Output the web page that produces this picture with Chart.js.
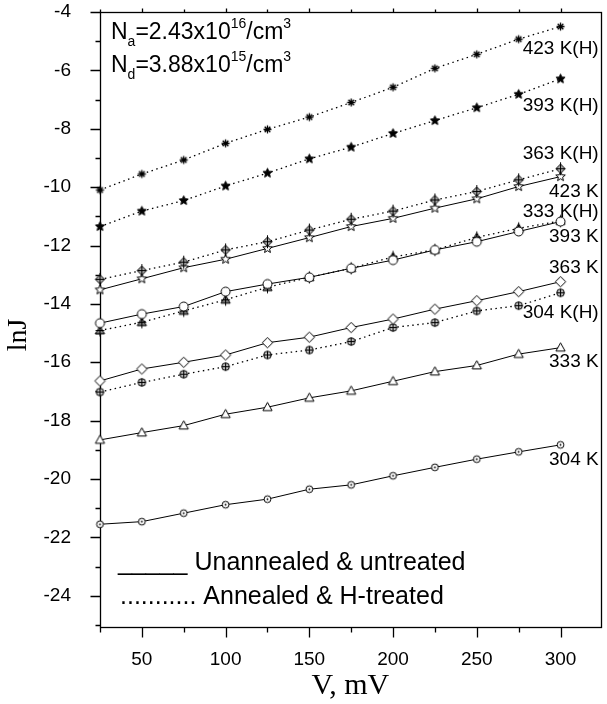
<!DOCTYPE html>
<html>
<head>
<meta charset="utf-8">
<script src="https://cdn.jsdelivr.net/npm/chart.js@4/dist/chart.umd.min.js"></script>
<style>
html,body{margin:0;padding:0;background:#fff;}
#c{display:block;}
</style>
</head>
<body>
<canvas id="c" width="607" height="704"></canvas>
<script>
// ---------- data ----------
const voltages = [25, 50, 75, 100, 125, 150, 175, 200, 225, 250, 275, 300];
const lnJ_423H = [-10.1, -9.55, -9.07, -8.5, -8.02, -7.6, -7.1, -6.58, -5.93, -5.45, -4.93, -4.5];
const lnJ_393H = [-11.35, -10.82, -10.46, -9.96, -9.52, -9.03, -8.63, -8.16, -7.72, -7.28, -6.82, -6.29];
const lnJ_363H = [-13.16, -12.86, -12.57, -12.15, -11.87, -11.47, -11.1, -10.82, -10.44, -10.15, -9.75, -9.37];
const lnJ_423 = [-13.52, -13.14, -12.76, -12.47, -12.1, -11.73, -11.35, -11.07, -10.72, -10.4, -9.98, -9.64];
const lnJ_393 = [-14.66, -14.35, -14.09, -13.58, -13.32, -13.09, -12.78, -12.5, -12.15, -11.87, -11.52, -11.18];
const lnJ_333H = [-14.91, -14.63, -14.24, -13.86, -13.43, -13.09, -12.78, -12.39, -12.15, -11.72, -11.41, -11.16];
const lnJ_363 = [-16.64, -16.23, -16.0, -15.75, -15.33, -15.14, -14.81, -14.52, -14.18, -13.89, -13.58, -13.24];
const lnJ_304H = [-17.02, -16.69, -16.41, -16.15, -15.75, -15.58, -15.29, -14.81, -14.64, -14.24, -14.06, -13.62];
const lnJ_333 = [-18.66, -18.41, -18.17, -17.78, -17.54, -17.22, -16.98, -16.65, -16.32, -16.11, -15.72, -15.5];
const lnJ_304 = [-21.55, -21.46, -21.17, -20.88, -20.69, -20.35, -20.2, -19.89, -19.6, -19.32, -19.07, -18.83];

const seriesNames = ['423 K(H)', '393 K(H)', '363 K(H)', '423 K', '393 K', '333 K(H)', '363 K', '304 K(H)', '333 K', '304 K'];
// curve labels written at the right-hand end of the plot (text, value of lnJ at which it sits)
const curveLabelTexts = ['423 K(H)', '393 K(H)', '363 K(H)', '423 K', '333 K(H)', '393 K', '363 K', '304 K(H)', '333 K', '304 K'];
const curveLabelLnJ = [-5.25, -7.2, -8.86, -10.16, -10.85, -11.7, -12.77, -14.3, -16.0, -19.35];

const xTickLabels = [50, 100, 150, 200, 250, 300];
const xMinorTicks = [25, 75, 125, 175, 225, 275, 325];
const yTickLabels = [-24, -22, -20, -18, -16, -14, -12, -10, -8, -6, -4];
const yMinorTicks = [-25, -23, -21, -19, -17, -15, -13, -11, -9, -7, -5];

const xTitle = 'V, mV';
const yTitle = 'lnJ';
const legendSolid = '_____ Unannealed & untreated';
const legendDotted = '........... Annealed & H-treated';

// ---------- markers ----------
function mk(size, draw) {
  const c = document.createElement('canvas');
  c.width = size; c.height = size;
  const g = c.getContext('2d');
  g.translate(size / 2, size / 2);
  g.lineWidth = 1; g.strokeStyle = '#000'; g.fillStyle = '#fff';
  draw(g);
  return c;
}
function starPath(g, R, r) {
  g.beginPath();
  for (let i = 0; i < 10; i++) {
    const a = -Math.PI / 2 + i * Math.PI / 5;
    const rr = i % 2 ? r : R;
    const px = rr * Math.cos(a), py = rr * Math.sin(a);
    i ? g.lineTo(px, py) : g.moveTo(px, py);
  }
  g.closePath();
}
function plus(g, h, v) {
  g.beginPath(); g.moveTo(-h, 0); g.lineTo(h, 0); g.moveTo(0, -v); g.lineTo(0, v); g.stroke();
}
const mAsterisk = mk(11, g => {
  g.lineWidth = 1.3;
  g.beginPath();
  for (let i = 0; i < 4; i++) { const a = i * Math.PI / 4; g.moveTo(-4 * Math.cos(a), -4 * Math.sin(a)); g.lineTo(4 * Math.cos(a), 4 * Math.sin(a)); }
  g.stroke();
});
const mStarFilled = mk(13, g => { g.fillStyle = '#000'; starPath(g, 4.8, 2.2); g.fill(); g.stroke(); });
const mStarOpen = mk(13, g => { starPath(g, 5, 2.2); g.fill(); g.stroke(); });
const mDiamondCross = mk(15, g => {
  g.beginPath(); g.moveTo(0, -4.6); g.lineTo(4.6, 0); g.lineTo(0, 4.6); g.lineTo(-4.6, 0); g.closePath();
  g.fillStyle = '#aaa'; g.fill(); g.stroke(); plus(g, 4.6, 6.5);
});
const mCircle = mk(13, g => { g.beginPath(); g.arc(0, 0, 4.5, 0, Math.PI * 2); g.fill(); g.stroke(); });
const mTriCross = mk(15, g => {
  g.beginPath(); g.moveTo(0, -4.6); g.lineTo(4.6, 3.4); g.lineTo(-4.6, 3.4); g.closePath();
  g.fillStyle = '#777'; g.fill(); g.stroke(); plus(g, 4.3, 6);
});
const mDiamond = mk(15, g => {
  g.beginPath(); g.moveTo(0, -5.2); g.lineTo(5.2, 0); g.lineTo(0, 5.2); g.lineTo(-5.2, 0); g.closePath();
  g.fill(); g.stroke();
});
const mCircleCross = mk(11, g => { g.beginPath(); g.arc(0, 0, 3.8, 0, Math.PI * 2); g.fillStyle = '#bbb'; g.fill(); g.stroke(); plus(g, 3.8, 3.8); });
const mTriangle = mk(13, g => {
  g.beginPath(); g.moveTo(0, -4.8); g.lineTo(4.6, 3.4); g.lineTo(-4.6, 3.4); g.closePath(); g.fill(); g.stroke();
});
const mSmallCircle = mk(11, g => {
  g.beginPath(); g.arc(0, 0, 3.4, 0, Math.PI * 2); g.fill(); g.stroke();
  g.fillStyle = '#000'; g.beginPath(); g.arc(0, 0, 0.9, 0, Math.PI * 2); g.fill();
});

const seriesValues = [lnJ_423H, lnJ_393H, lnJ_363H, lnJ_423, lnJ_393, lnJ_333H, lnJ_363, lnJ_304H, lnJ_333, lnJ_304];
const seriesMarkers = [mAsterisk, mStarFilled, mDiamondCross, mStarOpen, mCircle, mTriCross, mDiamond, mCircleCross, mTriangle, mSmallCircle];
const seriesDotted = [true, true, true, false, false, true, false, true, false, false];

const datasets = seriesValues.map((vals, i) => ({
  label: seriesNames[i],
  data: voltages.map((v, j) => ({ x: v, y: vals[j] })),
  borderColor: '#000',
  borderWidth: seriesDotted[i] ? 1.3 : 1,
  borderDash: seriesDotted[i] ? [1.5, 3.5] : [],
  pointStyle: seriesMarkers[i],
  pointRadius: 5,
  tension: 0,
  fill: false,
  clip: false
}));

const SANS = '"Liberation Sans", Arial, Helvetica, sans-serif';
const SERIF = '"Liberation Serif", "Times New Roman", serif';

const framePlugin = {
  id: 'frame',
  beforeDatasetsDraw(chart) {
    const { ctx, chartArea: a, scales: { x, y } } = chart;
    ctx.save();
    ctx.strokeStyle = '#000';
    ctx.lineWidth = 1.3;
    ctx.strokeRect(Math.round(a.left) + 0.5, Math.round(a.top) + 0.5, Math.round(a.right - a.left), Math.round(a.bottom - a.top));
    ctx.beginPath();
    const b = Math.round(a.bottom) + 0.5, l = Math.round(a.left) + 0.5, t = Math.round(a.top) + 0.5;
    xTickLabels.forEach(v => { const px = Math.round(x.getPixelForValue(v)) + 0.5; ctx.moveTo(px, b); ctx.lineTo(px, b + 10); ctx.moveTo(px, t); ctx.lineTo(px, t - 4); });
    xMinorTicks.forEach(v => { const px = Math.round(x.getPixelForValue(v)) + 0.5; if (px > a.right + 1) return; ctx.moveTo(px, b); ctx.lineTo(px, b + 5); ctx.moveTo(px, t); ctx.lineTo(px, t - 3); });
    yTickLabels.forEach(v => { const py = Math.round(y.getPixelForValue(v)) + 0.5; ctx.moveTo(l, py); ctx.lineTo(l - 10, py); });
    yMinorTicks.forEach(v => { const py = Math.round(y.getPixelForValue(v)) + 0.5; if (py > a.bottom + 1) return; ctx.moveTo(l, py); ctx.lineTo(l - 5, py); });
    ctx.stroke();
    ctx.restore();
  },
  afterDraw(chart) {
    const { ctx, chartArea: a, scales: { x, y } } = chart;
    ctx.save();
    ctx.fillStyle = '#000';
    // curve labels
    ctx.font = '19px ' + SANS;
    ctx.textAlign = 'right';
    ctx.textBaseline = 'middle';
    curveLabelTexts.forEach((n, i) => {
      ctx.fillText(n, a.right - 2, y.getPixelForValue(curveLabelLnJ[i]));
    });
    // concentration annotation
    function sci(parts, x0, yc) {
      let cx = x0;
      parts.forEach(p => {
        ctx.font = (p.s ? '14px ' : '23px ') + SANS;
        ctx.textAlign = 'left';
        ctx.textBaseline = 'middle';
        ctx.fillText(p.t, cx, yc + (p.s || 0));
        cx += ctx.measureText(p.t).width;
      });
    }
    sci([{ t: 'N' }, { t: 'a', s: 9 }, { t: '=2.43x10' }, { t: '16', s: -9 }, { t: '/cm' }, { t: '3', s: -9 }], a.left + 11, 33);
    sci([{ t: 'N' }, { t: 'd', s: 9 }, { t: '=3.88x10' }, { t: '15', s: -9 }, { t: '/cm' }, { t: '3', s: -9 }], a.left + 11, 66);
    // legend text
    ctx.font = '25px ' + SANS;
    ctx.textAlign = 'left';
    ctx.textBaseline = 'middle';
    ctx.fillText(legendSolid, a.left + 18, 563);
    ctx.fillText(legendDotted, a.left + 20, 597);
    // axis titles
    ctx.font = '30px ' + SERIF;
    ctx.textAlign = 'center';
    ctx.textBaseline = 'middle';
    ctx.fillText(xTitle, (a.left + a.right) / 2, 686);
    ctx.save();
    ctx.translate(19, 335);
    ctx.rotate(-Math.PI / 2);
    ctx.font = '28px ' + SERIF;
    ctx.fillText(yTitle, 0, 0);
    ctx.restore();
    ctx.restore();
  }
};

new Chart(document.getElementById('c'), {
  type: 'line',
  data: { datasets },
  options: {
    responsive: false,
    animation: false,
    layout: { padding: { top: 12, right: 4, left: 0, bottom: 0 } },
    plugins: { legend: { display: false }, tooltip: { enabled: false } },
    scales: {
      x: {
        type: 'linear', min: 25, max: 324,
        grid: { display: false }, border: { display: false },
        afterBuildTicks: s => { s.ticks = xTickLabels.map(v => ({ value: v })); },
        afterFit: s => { s.height = 77; s.paddingLeft = 0; s.paddingRight = 0; },
        ticks: { font: { family: SANS, size: 19 }, color: '#000', padding: 13, maxRotation: 0, autoSkip: false, callback: v => String(v) }
      },
      y: {
        type: 'linear', min: -25.07, max: -4,
        grid: { display: false }, border: { display: false },
        afterBuildTicks: s => { s.ticks = yTickLabels.map(v => ({ value: v })); },
        afterFit: s => { s.width = 100; s.paddingTop = 0; s.paddingBottom = 0; },
        ticks: { font: { family: SANS, size: 19 }, color: '#000', padding: 21, autoSkip: false, callback: v => String(v) }
      }
    }
  },
  plugins: [framePlugin]
});
</script>
</body>
</html>
